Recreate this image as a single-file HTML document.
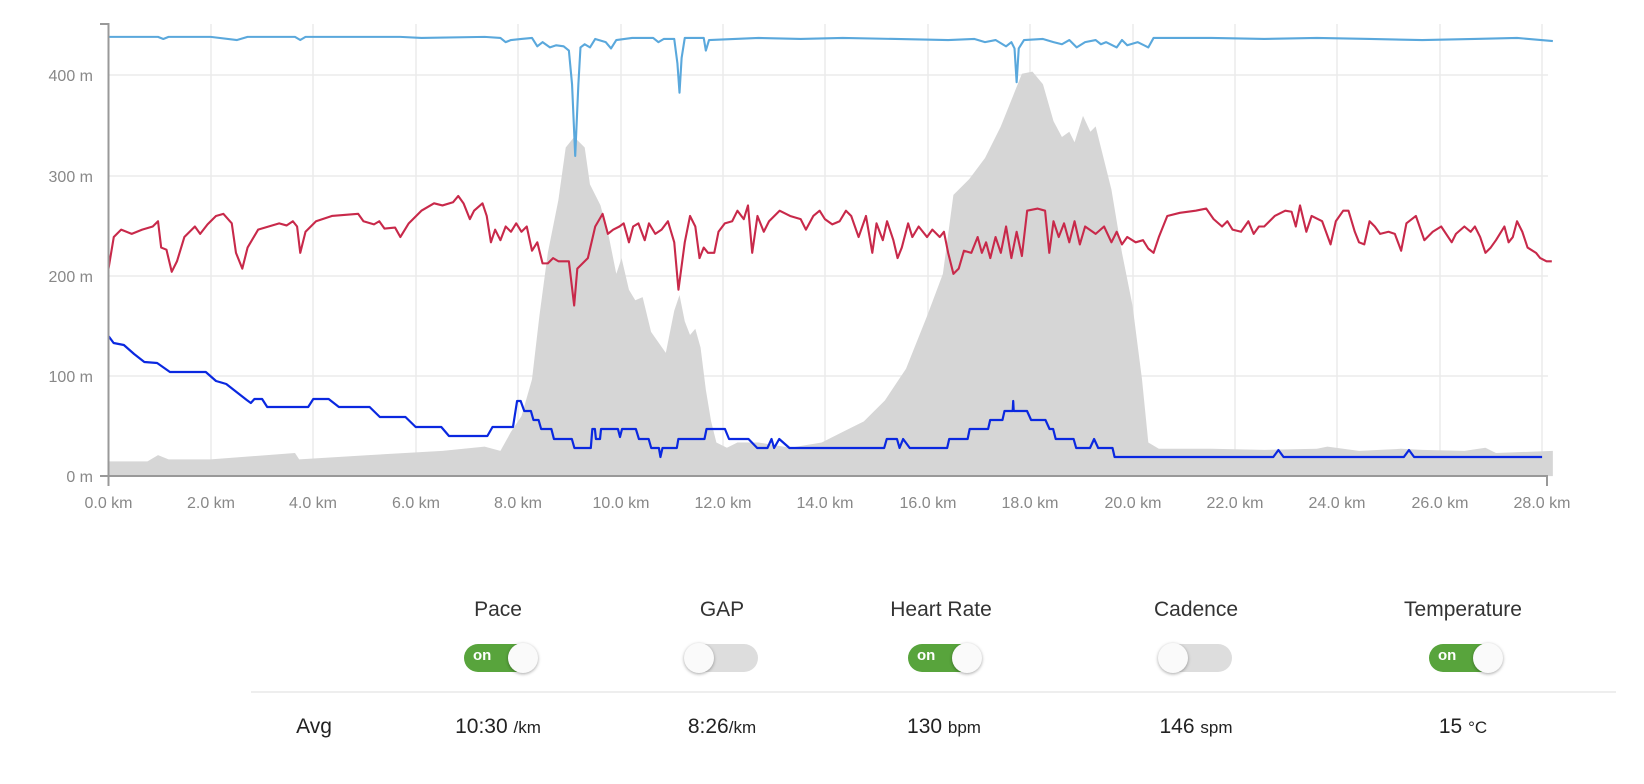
<!DOCTYPE html>
<html><head><meta charset="utf-8">
<style>
html,body{margin:0;padding:0;background:#fff;width:1644px;height:784px;overflow:hidden;font-family:"Liberation Sans",sans-serif;}
.lbl{position:absolute;font-size:21px;color:#333;transform:translateX(-50%);white-space:nowrap;}
.tg{position:absolute;width:72px;height:28px;border-radius:14px;transform:translateX(-50%);}
.tg.on{background:#58a43c;}
.tg.off{background:#ddd;}
.tg .k{position:absolute;top:-1px;width:30px;height:30px;border-radius:50%;background:#fafafa;box-shadow:0 1px 3px rgba(0,0,0,.35);}
.tg.on .k{right:-2px;}
.tg.off .k{left:-2px;}
.tg .t{position:absolute;left:9px;top:3px;color:#fff;font-weight:bold;font-size:15px;}
.avg{position:absolute;font-size:21px;color:#222;transform:translateX(-50%);white-space:nowrap;top:715px;}
.avg small{font-size:17px;}
</style></head><body>
<svg width="1644" height="784" style="position:absolute;left:0;top:0">
<g font-family="Liberation Sans, sans-serif" font-size="16" fill="#888">
<!-- grid -->
<g stroke="#ebebeb" stroke-width="1.5">
<line x1="108.5" y1="376" x2="1548" y2="376"/><line x1="108.5" y1="276" x2="1548" y2="276"/><line x1="108.5" y1="176" x2="1548" y2="176"/><line x1="108.5" y1="75" x2="1548" y2="75"/>
<line x1="211" y1="24" x2="211" y2="476"/><line x1="313" y1="24" x2="313" y2="476"/><line x1="416" y1="24" x2="416" y2="476"/><line x1="518" y1="24" x2="518" y2="476"/><line x1="621" y1="24" x2="621" y2="476"/><line x1="723" y1="24" x2="723" y2="476"/><line x1="825" y1="24" x2="825" y2="476"/><line x1="928" y1="24" x2="928" y2="476"/><line x1="1030" y1="24" x2="1030" y2="476"/><line x1="1133" y1="24" x2="1133" y2="476"/><line x1="1235" y1="24" x2="1235" y2="476"/><line x1="1337" y1="24" x2="1337" y2="476"/><line x1="1440" y1="24" x2="1440" y2="476"/><line x1="1542" y1="24" x2="1542" y2="476"/>
</g>
<g transform="scale(1.0535)">
<path fill="#d6d6d6" d="M103,438 L140,438 150,432 160,436 200,436 280,430 284,436 350,432 420,428 460,424 475,428 485,410 495,395 505,360 512,300 520,240 530,190 537,140 545,130 550,135 555,140 560,175 570,195 578,225 585,260 590,245 597,275 603,285 610,282 618,315 625,325 632,335 640,295 645,280 650,305 655,318 660,312 665,330 670,370 675,400 680,420 690,425 700,420 720,420 750,425 780,420 800,410 820,400 840,380 860,350 880,300 895,260 905,185 920,170 935,150 950,120 962,90 970,70 980,68 990,80 1000,115 1008,130 1015,125 1020,135 1028,110 1035,125 1040,120 1045,140 1055,180 1065,240 1075,290 1084,360 1090,420 1100,426 1150,426 1200,427 1250,426 1260,424 1290,428 1330,426 1350,427 1390,428 1410,425 1420,430 1474,428 1474,452 103,452Z"/>
<polyline fill="none" stroke="#5aa8dc" stroke-width="2" stroke-linejoin="round" points="103,35 150,35 155,37 160,35 200,35 225,38 235,35 280,35 285,38 290,35 380,35 400,36 460,35 475,36 480,40 485,38 495,37 505,36 510,44 515,40 522,45 528,43 535,44 540,48 543,80 546,148 549,80 551,45 555,42 560,45 565,37 575,40 580,46 585,38 600,36 620,36 625,40 630,37 640,37 643,60 645,88 647,55 650,36 668,36 670,48 673,38 720,36 760,37 800,36 850,37 900,38 925,37 935,40 945,38 955,44 960,40 963,46 965,78 967,46 972,38 990,37 1000,40 1008,42 1015,38 1022,45 1030,40 1040,38 1045,42 1050,40 1060,45 1065,38 1070,43 1080,40 1090,45 1095,36 1150,36 1200,37 1250,36 1300,37 1350,38 1400,37 1440,36 1474,39"/>
<polyline fill="none" stroke="#c8294a" stroke-width="2" stroke-linejoin="round" points="103,255 108,225 115,218 125,222 135,218 145,215 150,210 153,235 158,237 163,258 168,248 175,225 185,215 190,222 197,213 205,205 212,203 220,212 224,240 230,255 235,235 245,218 255,215 265,212 272,214 278,210 282,215 285,240 290,220 300,210 315,205 340,203 345,210 355,213 360,210 365,217 375,216 380,225 388,212 400,200 412,193 420,195 430,192 435,186 440,193 446,208 450,200 458,193 462,205 466,230 470,218 475,228 480,215 485,220 490,212 495,220 500,215 505,238 510,230 515,250 520,250 525,245 530,248 540,248 545,290 548,255 553,250 558,245 565,215 572,203 577,222 582,218 588,215 592,212 597,230 601,215 606,212 612,228 616,212 622,222 628,218 634,210 640,230 644,275 650,230 655,205 660,215 664,245 668,235 672,240 678,240 682,220 688,212 695,210 700,200 706,208 710,195 714,240 719,205 725,220 730,210 740,200 750,205 760,208 765,218 772,205 778,200 783,208 790,213 797,210 803,200 808,205 815,225 822,205 828,240 832,212 838,228 842,210 848,228 852,245 856,235 862,212 866,225 872,215 880,225 885,218 892,225 896,220 900,240 905,260 910,255 915,238 922,240 928,225 932,240 936,230 940,245 945,225 950,240 955,215 960,245 965,220 970,243 975,200 985,198 992,200 996,240 1000,210 1005,225 1010,212 1015,230 1020,210 1025,232 1030,215 1040,222 1048,215 1055,230 1060,220 1065,232 1070,225 1078,230 1085,228 1090,236 1095,240 1100,225 1108,205 1120,202 1135,200 1145,198 1152,208 1160,215 1165,210 1170,218 1178,220 1185,210 1190,222 1195,215 1200,215 1210,205 1220,200 1226,201 1230,215 1234,195 1240,220 1245,205 1255,210 1263,232 1268,210 1275,200 1280,200 1286,220 1290,230 1295,232 1300,210 1305,215 1310,222 1318,220 1324,222 1330,238 1335,212 1344,205 1352,228 1360,220 1368,215 1378,230 1382,222 1390,215 1396,220 1400,215 1405,225 1410,240 1415,235 1420,228 1428,215 1432,230 1436,225 1440,210 1445,220 1450,235 1458,240 1462,245 1468,248 1473,248"/>
</g>
<g transform="matrix(51.2 0 0 -1 108.5 476)">
<polyline fill="none" stroke="#0a28e0" stroke-width="2.2" stroke-linejoin="round" vector-effect="non-scaling-stroke" points="0,140 0.1,133 0.3,131 0.5,122 0.7,114 0.95,113 1.2,104 1.9,104 2.1,95 2.3,92 2.5,84 2.7,76 2.78,73 2.85,77 3.0,77 3.1,69 3.9,69 4.0,77 4.3,77 4.5,69 5.1,69 5.3,59 5.8,59 6.0,49 6.5,49 6.65,40 7.4,40 7.5,49 7.9,49 7.98,75 8.05,75 8.12,65 8.25,65 8.3,56 8.4,56 8.45,47 8.65,47 8.7,37 9.05,37 9.1,28 9.42,28 9.45,47 9.5,47 9.52,37 9.6,37 9.62,47 9.95,47 9.99,39 10.03,47 10.3,47 10.36,37 10.55,37 10.6,28 10.75,28 10.78,19 10.82,28 11.1,28 11.13,37 11.64,37 11.68,47 12.04,47 12.12,37 12.5,37 12.67,28 12.87,28 12.95,37 13.0,28 13.1,37 13.3,28 15.15,28 15.2,37 15.4,37 15.45,28 15.52,37 15.65,28 16.38,28 16.42,37 16.78,37 16.82,47 17.18,47 17.22,56 17.46,56 17.5,65 17.66,65 17.67,75 17.68,65 17.94,65 18.02,56 18.3,56 18.38,47 18.45,47 18.5,37 18.85,37 18.9,28 19.17,28 19.25,37 19.33,28 19.61,28 19.65,19 22.75,19 22.85,26 22.95,19 25.3,19 25.4,26 25.5,19 28.0,19"/>
</g>
<!-- axes -->
<g stroke="#999" stroke-width="2">
<line x1="108.5" y1="23" x2="108.5" y2="486"/><line x1="100" y1="24" x2="108.5" y2="24"/>
<line x1="100" y1="476" x2="1548" y2="476"/><line x1="1547" y1="476" x2="1547" y2="486"/>
</g>
<g text-anchor="end"><text x="93" y="482">0 m</text><text x="93" y="382">100 m</text><text x="93" y="282">200 m</text><text x="93" y="182">300 m</text><text x="93" y="81">400 m</text></g>
<g text-anchor="middle"><text x="108.5" y="508">0.0 km</text><text x="211" y="508">2.0 km</text><text x="313" y="508">4.0 km</text><text x="416" y="508">6.0 km</text><text x="518" y="508">8.0 km</text><text x="621" y="508">10.0 km</text><text x="723" y="508">12.0 km</text><text x="825" y="508">14.0 km</text><text x="928" y="508">16.0 km</text><text x="1030" y="508">18.0 km</text><text x="1133" y="508">20.0 km</text><text x="1235" y="508">22.0 km</text><text x="1337" y="508">24.0 km</text><text x="1440" y="508">26.0 km</text><text x="1542" y="508">28.0 km</text></g>
</g>
</svg>
<div class="lbl" style="left:498px;top:598px">Pace</div>
<div class="lbl" style="left:722px;top:598px">GAP</div>
<div class="lbl" style="left:941px;top:598px">Heart Rate</div>
<div class="lbl" style="left:1196px;top:598px">Cadence</div>
<div class="lbl" style="left:1463px;top:598px">Temperature</div>
<div class="tg on" style="left:500px;top:644px"><span class="t">on</span><div class="k"></div></div>
<div class="tg off" style="left:722px;top:644px"><div class="k"></div></div>
<div class="tg on" style="left:944px;top:644px"><span class="t">on</span><div class="k"></div></div>
<div class="tg off" style="left:1196px;top:644px"><div class="k"></div></div>
<div class="tg on" style="left:1465px;top:644px"><span class="t">on</span><div class="k"></div></div>
<div style="position:absolute;left:251px;top:691px;width:1365px;height:2px;background:#eee"></div>
<div class="avg" style="left:314px">Avg</div>
<div class="avg" style="left:498px">10:30 <small>/km</small></div>
<div class="avg" style="left:722px">8:26<small>/km</small></div>
<div class="avg" style="left:944px">130 <small>bpm</small></div>
<div class="avg" style="left:1196px">146 <small>spm</small></div>
<div class="avg" style="left:1463px">15 <small>°C</small></div>
</body></html>
